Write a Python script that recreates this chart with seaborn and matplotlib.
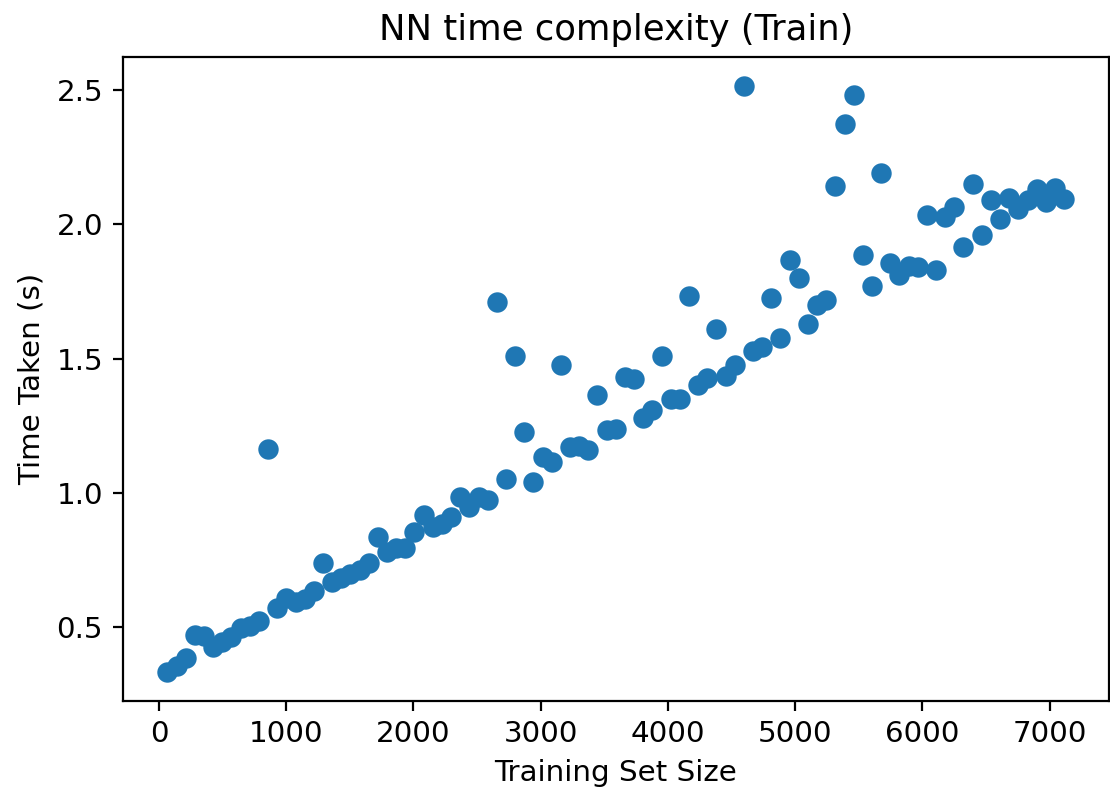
import matplotlib
matplotlib.use("Agg")
import matplotlib.pyplot as plt
import seaborn as sns
import pandas as pd

# training set sizes
train_size = [67, 139, 211, 283, 355, 427, 498, 570, 642, 714,
              786, 858, 930, 1002, 1074, 1146, 1217, 1289, 1361, 1433,
              1505, 1577, 1649, 1721, 1793, 1865, 1936, 2008, 2080, 2152,
              2224, 2296, 2368, 2440, 2512, 2584, 2655, 2727, 2799, 2871,
              2943, 3015, 3087, 3159, 3231, 3303, 3374, 3446, 3518, 3590,
              3662, 3734, 3806, 3878, 3950, 4022, 4093, 4165, 4237, 4309,
              4381, 4453, 4525, 4597, 4669, 4741, 4812, 4884, 4956, 5028,
              5100, 5172, 5244, 5316, 5388, 5460, 5531, 5603, 5675, 5747,
              5819, 5891, 5963, 6035, 6107, 6179, 6250, 6322, 6394, 6466,
              6538, 6610, 6682, 6754, 6826, 6898, 6969, 7041, 7113]

# time taken (s)
time_taken = [0.336, 0.358, 0.386, 0.472, 0.469, 0.429, 0.447, 0.466, 0.497, 0.506,
              0.525, 1.163, 0.572, 0.609, 0.596, 0.606, 0.636, 0.741, 0.670, 0.685,
              0.699, 0.714, 0.741, 0.838, 0.782, 0.795, 0.795, 0.856, 0.918, 0.875,
              0.885, 0.910, 0.984, 0.947, 0.984, 0.974, 1.711, 1.051, 1.512, 1.228,
              1.042, 1.133, 1.114, 1.476, 1.172, 1.176, 1.160, 1.364, 1.234, 1.238,
              1.432, 1.426, 1.278, 1.309, 1.509, 1.349, 1.352, 1.733, 1.401, 1.430,
              1.609, 1.435, 1.476, 2.514, 1.528, 1.542, 1.727, 1.577, 1.866, 1.802,
              1.628, 1.699, 1.720, 2.142, 2.372, 2.480, 1.887, 1.770, 2.192, 1.858,
              1.810, 1.845, 1.841, 2.033, 1.829, 2.027, 2.064, 1.916, 2.149, 1.959,
              2.089, 2.021, 2.099, 2.058, 2.092, 2.133, 2.083, 2.135, 2.093]

df = pd.DataFrame({'size': train_size, 'time': time_taken})

plt.rcParams['font.size'] = 10.6

fig = plt.figure(figsize=(5.55, 3.955), dpi=200)
ax = fig.add_axes([0.1105, 0.114, 0.8885, 0.814])
sns.scatterplot(data=df, x='size', y='time', ax=ax, s=54, color='#1f77b4', linewidth=0)
ax.set_title('NN time complexity (Train)')
ax.set_xlabel('Training Set Size')
ax.set_ylabel('Time Taken (s)')
ax.set_xticks([0, 1000, 2000, 3000, 4000, 5000, 6000, 7000])
ax.set_yticks([0.5, 1.0, 1.5, 2.0, 2.5])

fig.savefig('out.png', dpi=200)
